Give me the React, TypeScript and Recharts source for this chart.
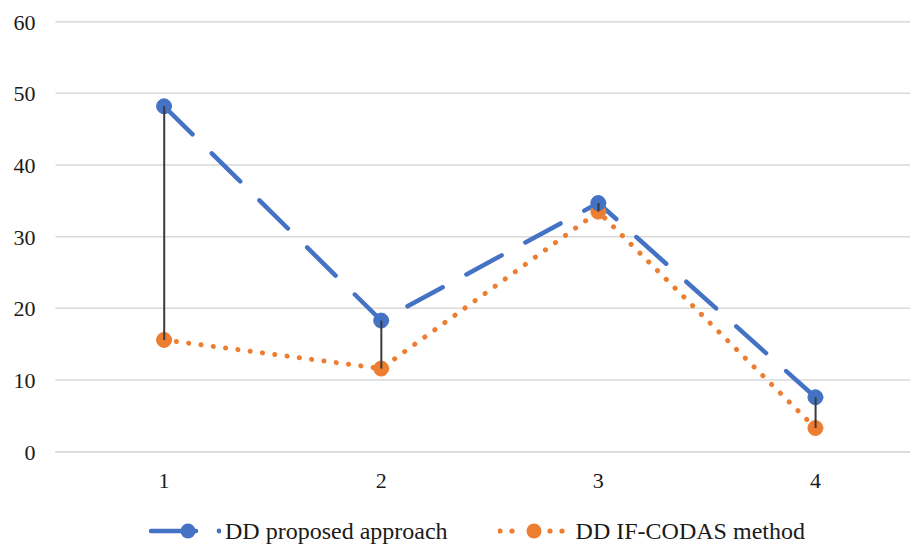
import React from "react";
import {
  Bar,
  CartesianGrid,
  ComposedChart,
  Legend,
  Line,
  XAxis,
  YAxis,
} from "recharts";

// categories on the x axis
const categories = ["1", "2", "3", "4"];
// DD proposed approach
const proposedValues = [48.2, 18.3, 34.7, 7.6];
// DD IF-CODAS method
const codasValues = [15.6, 11.6, 33.5, 3.3];
// labelled ticks and the light minor grid
const majorTicks = [0, 10, 20, 30, 40, 50, 60];
const minorTicks = [0, 2, 4, 6, 8, 10, 12, 14, 16, 18, 20, 22, 24, 26, 28, 30, 32, 34, 36, 38, 40, 42, 44, 46, 48, 50, 52, 54, 56, 58, 60];

const BLUE = "#4472C4";
const ORANGE = "#ED7D31";
const FONT = "Liberation Serif, Times New Roman, serif";

const data = categories.map((name, i) => ({
  name,
  proposed: proposedValues[i],
  codas: codasValues[i],
  range: [codasValues[i], proposedValues[i]],
}));

// vertical high-low line between the two series
const DropLine = (props: any) => {
  const { x, y, width, height } = props;
  if (x == null || y == null) return <g />;
  const cx = x + width / 2;
  return <line x1={cx} x2={cx} y1={y} y2={y + height} stroke="#3a3a3a" strokeWidth={2} />;
};

const LegendContent = () => (
  <div style={{ display: "flex", alignItems: "center", height: 30, fontFamily: FONT, fontSize: 24, color: "#1a1a1a" }}>
    <svg width={72} height={30} style={{ marginRight: 4 }}>
      <line x1={2} x2={47} y1={15} y2={15} stroke={BLUE} strokeWidth={4.5} strokeLinecap="round" />
      <circle cx={39} cy={15} r={7.5} fill={BLUE} />
      <circle cx={70} cy={15} r={2.4} fill={BLUE} />
    </svg>
    <span style={{ whiteSpace: "nowrap" }}>DD proposed approach</span>
    <svg width={72} height={30} style={{ marginLeft: 50, marginRight: 6 }}>
      {[2, 14, 52, 64].map((cx) => (
        <circle key={cx} cx={cx} cy={15} r={2.6} fill={ORANGE} />
      ))}
      <circle cx={36} cy={15} r={7.5} fill={ORANGE} />
    </svg>
    <span style={{ whiteSpace: "nowrap" }}>DD IF-CODAS method</span>
  </div>
);

export default function App() {
  return (
    <div style={{ position: "absolute", left: 0, top: 0, width: 910, height: 544, overflow: "hidden", background: "#fff", fontFamily: FONT }}>
      <ComposedChart
        width={930}
        height={544}
        data={data}
        margin={{ top: 21.7, right: 6, left: 0, bottom: 12.3 }}
      >
        <CartesianGrid yAxisId="minor" vertical={false} stroke="#ececec" strokeWidth={1.5} />
        <CartesianGrid yAxisId="major" vertical={false} stroke="#d9d9d9" strokeWidth={1.5} />
        <XAxis
          dataKey="name"
          axisLine={{ stroke: "#d9d9d9", strokeWidth: 1.5 }}
          tickLine={false}
          tickSize={0}
          tickMargin={21}
          height={50}
          tick={{ fontFamily: FONT, fontSize: 22, fill: "#1a1a1a" }}
        />
        <YAxis
          yAxisId="major"
          domain={[0, 60]}
          ticks={majorTicks}
          width={55.5}
          axisLine={false}
          tickLine={false}
          tickMargin={14}
          tick={{ fontFamily: FONT, fontSize: 22, fill: "#1a1a1a" }}
        />
        <YAxis yAxisId="minor" domain={[0, 60]} ticks={minorTicks} hide />
        <Line
          yAxisId="major"
          dataKey="codas"
          type="linear"
          stroke={ORANGE}
          strokeWidth={5}
          strokeDasharray="0.1 12.3"
          strokeLinecap="round"
          dot={{ r: 7.5, fill: ORANGE, stroke: ORANGE, strokeWidth: 1, strokeDasharray: "" }}
          isAnimationActive={false}
        />
        <Line
          yAxisId="major"
          dataKey="proposed"
          type="linear"
          stroke={BLUE}
          strokeWidth={4.5}
          strokeDasharray="40 27"
          strokeLinecap="round"
          dot={{ r: 7.5, fill: BLUE, stroke: BLUE, strokeWidth: 1, strokeDasharray: "" }}
          isAnimationActive={false}
        />
        <Bar
          yAxisId="major"
          dataKey="range"
          shape={<DropLine />}
          isAnimationActive={false}
          {...({ zIndex: 700 } as any)}
        />
        <Legend
          height={30}
          content={<LegendContent />}
          wrapperStyle={{ left: 149, top: 516, width: 760 }}
        />
      </ComposedChart>
    </div>
  );
}
